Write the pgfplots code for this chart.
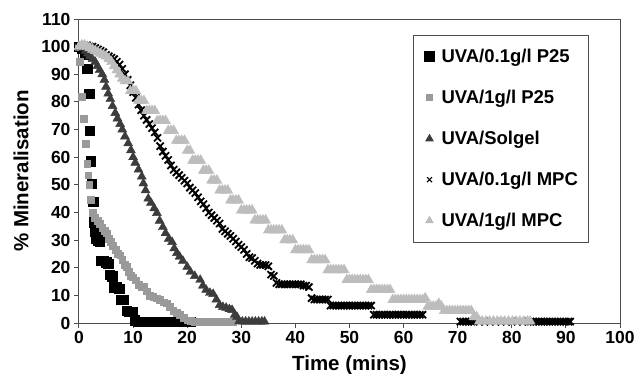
\documentclass[border=0pt]{standalone}
\usepackage{pgfplots}
\pgfplotsset{compat=1.18}
\usepackage{fontspec}
\setmainfont{Liberation Sans}
\definecolor{sqgrey}{HTML}{9A9A9A}
\definecolor{soldark}{HTML}{3C3C3C}
\definecolor{mpclight}{HTML}{BDBDBD}
\begin{document}
\begin{tikzpicture}
\begin{axis}[
  at={(0,0)}, anchor=south west,
  width=541pt, height=304pt, scale only axis,
  xmin=0, xmax=100, ymin=0, ymax=110,
  xtick={0,10,...,100}, ytick={0,10,...,110},
  tick align=outside, xtick pos=bottom, ytick pos=left,
  major tick length=5pt,
  axis line style={black!70, line width=1pt},
  tick style={black!70, line width=1pt},
  clip=false,
  /pgf/number format/assume math mode=true,
  ticklabel style={font=\bfseries\fontsize{17.5}{20}\selectfont},
  xlabel={Time (mins)}, ylabel={\% Mineralisation},
  label style={font=\bfseries\fontsize{20.5}{24}\selectfont},
  xlabel style={at={(axis description cs:0.5,-0.1546)}, anchor=base},
  ylabel style={at={(axis description cs:-0.1072,0.5)}, anchor=center},
  legend image code/.code={\draw[#1] plot coordinates {(0pt,0pt)};},
  legend cell align=left,
  legend style={at={(rel axis cs:0.6174,0.9474)}, anchor=north west,
    draw=black!70, line width=1pt,
    font=\bfseries\fontsize{18.5}{21}\selectfont,
    inner xsep=11pt, inner ysep=14pt, row sep=26pt,
    nodes={inner sep=0pt},
    /tikz/every odd column/.append style={column sep=7pt}},
]
% UVA/0.1g/l P25
\addplot[only marks, mark=square*, mark size=4.7pt, mark options={draw=black, fill=black},
  legend image post style={mark size=5pt}] coordinates {
(0,100)(0.5,99.5)(1,97)(1.5,92)(1.9,83)(2.0,69.5)(2.2,58.5)(2.4,50.5)(2.6,44)(2.8,36.5)
(3.0,33)(3.2,30.5)(3.5,30)(3.8,29.5)(4.1,22.5)(4.5,22.5)(5.0,22)(5.4,21.5)(5.7,17.5)(6.1,17)
(6.4,13)(6.9,13)(7.4,12.5)(7.8,8.5)(8.3,8.5)(8.8,4.5)(9.3,4)(9.8,4)(10.3,1)(10.8,0.5)
(11.5,0.5)(12.2,0.5)(12.9,0.5)(13.6,0.5)(14.3,0.5)(15,0.5)(15.7,0.5)(16.4,0.5)(17.1,0.5)(17.8,0.5)
(18.5,0.5)(19.2,0.5)(19.9,0.5)(20.7,0.5)
};
\addlegendentry{UVA/0.1g/l P25}
% UVA/1g/l P25
\addplot[only marks, mark=square*, mark size=3.4pt, mark options={draw=sqgrey, fill=sqgrey},
  legend image post style={mark size=3pt}] coordinates {
(0,100)(0.2,94.5)(0.5,82)(0.8,74)(1.3,65)(1.5,57.5)(1.7,53.5)(1.9,50)(2.2,44.5)(2.5,40)
(2.9,38)(3.4,37)(3.9,36)(4.3,34.5)(4.7,33.5)(5.1,32.5)(5.5,30.5)(5.9,29.5)(6.3,28)(6.8,26.5)
(7.2,25)(7.6,24.5)(8.0,23)(8.4,21)(8.8,20.3)(9.2,18.5)(9.6,17)(10.0,16.6)(10.5,15.5)(11.0,14)
(11.5,13.2)(12.0,13)(12.5,11.5)(13.1,10)(13.7,9.4)(14.3,9)(14.9,8.5)(15.6,7.5)(16.2,7.2)(16.8,6)
(17.4,4.5)(18.0,3.6)(18.6,3)(19.3,2)(20.0,1)(20.7,0.8)(21.4,0.6)(22.1,0.5)(22.8,0.5)(23.5,0.5)
(24.2,0.5)(24.9,0.5)(25.6,0.5)(26.3,0.5)(27.0,0.5)(27.7,0.5)(28.4,0.5)
};
\addlegendentry{UVA/1g/l P25}
% UVA/Solgel
\addplot[only marks, mark=triangle*, mark size=5.2pt, mark options={draw=soldark, fill=soldark},
  legend image post style={mark size=4pt}] coordinates {
(0,100)(0.4,100)(0.8,99.5)(1.2,98.5)(1.6,97.5)(2.0,96.5)(2.5,95.5)(3.0,94.5)(3.4,93)(3.8,91.5)
(4.3,90)(4.7,88)(5.0,85.5)(5.4,83)(5.8,81)(6.2,78.5)(6.7,76)(7.1,74)(7.6,72)(8.0,70)
(8.5,67.5)(9.1,65)(9.6,62.5)(10.0,60)(10.4,58)(11.0,55.5)(11.6,53)(11.9,50.5)(12.3,48)(12.8,45)
(13.3,43.5)(13.9,41.5)(14.4,39.8)(14.9,37)(15.5,34.7)(16.0,32.5)(16.6,30.5)(17.2,29.3)(17.6,27)(18.1,25.3)
(18.6,24)(19.2,22.5)(20.0,20.3)(20.6,18.5)(21.4,17)(22.4,15.6)(22.9,13.5)(23.5,12)(24.2,10.9)(24.8,10.5)
(25.4,8.5)(26.0,6.5)(26.6,5.8)(27.2,5.5)(27.8,5)(28.3,4.7)(28.8,3)(29.2,2.2)(29.6,0.6)(30.2,0.5)
(30.8,0.5)(31.4,0.5)(32.0,0.5)(32.6,0.5)(33.2,0.5)(33.8,0.5)(34.3,0.5)
};
\addlegendentry{UVA/Solgel}
% UVA/0.1g/l MPC
\addplot[only marks, mark=x, mark size=5pt, mark options={draw=black, line width=1.8pt},
  legend image post style={mark size=3.6pt, mark options={line width=1pt}}] coordinates {
(0,100)(0.5,100.5)(1,100.5)(1.5,100.5)(2,100)(2.5,100)(3,99.5)(3.5,99)(4,98.5)(4.5,98)
(5,97)(5.5,96.5)(6,96)(6.5,95.5)(7,94.5)(7.5,93.5)(8,92)(8.5,90)(9,88)(9.5,86)
(10,83.5)(10.5,81.5)(11,79)(11.5,77)(12,75)(12.5,73.5)(13,72)(13.5,70.5)(14,69)(14.5,67)
(15,64)(15.5,62)(16,60.5)(16.5,59)(17,57)(17.5,55.5)(18,54.5)(18.5,53.5)(19,52.5)(19.5,51.5)
(20,50.5)(20.5,49)(21,48)(21.5,47)(22,45.5)(22.5,44)(23,43)(23.5,41.5)(24,40)(24.5,39)
(25,38)(25.5,37)(26,36)(26.5,34)(27,33.2)(27.5,32.3)(28,31.5)(28.5,30.5)(29,29.5)(29.5,28.3)
(30,27.5)(30.5,26.5)(31,25)(31.5,23.8)(32,23.5)(32.5,22.5)(33,21.5)(33.5,21)(34,21)(34.5,21)
(35,20.5)(35.5,17.5)(36,17)(36.5,14.5)(37,14)(37.5,14)(38,14)(38.5,14)(39,14)(39.5,14)
(40,14)(40.5,14)(41,14)(41.5,13.5)(42,13.5)(42.5,13)(43,9)(43.5,8.5)(44,8.5)(44.5,8.5)
(45,8.5)(45.5,8.5)(46,8.5)(46.5,6.3)(47,6.3)(47.5,6.3)(48,6.3)(48.5,6.3)(49,6.3)(49.5,6.3)
(50,6.3)(50.5,6.3)(51,6.3)(51.5,6.3)(52,6.3)(52.5,6.3)(53,6.3)(53.5,6.3)(54,6.3)(54.5,3)
(55,3)(55.5,3)(56,3)(56.5,3)(57,3)(57.5,3)(58,3)(58.5,3)(59,3)(59.5,3)
(60,3)(60.5,3)(61,3)(61.5,3)(62,3)(62.5,3)(63,3)(63.5,3)
(70.5,0.5)(71,0.5)(71.5,0.5)(72,0.5)(72.5,0.5)(73,0.5)(74,0.5)(75,0.5)(76,0.5)(77,0.5)
(78,0.5)(79,0.5)(80,0.5)(81,0.5)(82,0.5)(83,0.5)(83.5,0.5)(84,0.5)(84.5,0.5)(85,0.5)
(85.5,0.5)(86,0.5)(86.5,0.5)(87,0.5)(87.5,0.5)(88,0.5)(88.5,0.5)(89,0.5)(89.5,0.5)(90,0.5)
(90.5,0.5)(90.8,0.5)
};
\addlegendentry{UVA/0.1g/l MPC}
% UVA/1g/l MPC
\addplot[only marks, mark=triangle*, mark size=5.8pt, mark options={draw=mpclight, fill=mpclight},
  legend image post style={mark size=4pt}] coordinates {
(0,100)(0.5,100.5)(1,100.5)(1.5,100)(2,99.5)(2.5,99)(3,98.5)(3.5,98)(4,97.5)(4.5,97)
(5,96.5)(5.5,95.5)(6,94.5)(6.5,93)(7,91.5)(7.5,90)(8,88.5)(8.5,87.6)(9,87.6)
(9.5,84)(10,84)(10.5,84)
(11,80.4)(11.5,80.4)(12,80.4)
(12.5,76.8)(13,76.8)(13.5,76.8)(14,76.8)
(14.5,73.2)(15,73.2)(15.5,73.2)(16,73.2)
(16.5,69.6)(17,69.6)(17.5,69.6)
(18,66)(18.5,66)(19,66)(19.5,66)
(20,62.4)(20.5,62.4)
(21,58.8)(21.5,58.8)(22,58.8)(22.5,58.8)
(23,55.2)(23.5,55.2)(24,55.2)
(24.5,51.6)(25,51.6)(25.5,51.6)
(26,48)(26.5,48)(27,48)(27.5,48)
(28,44.4)(28.5,44.4)(29,44.4)(29.5,44.4)
(30,40.8)(30.5,40.8)(31,40.8)(31.5,40.8)(32,40.8)
(32.5,37.2)(33,37.2)(33.5,37.2)(34,37.2)(34.5,37.2)
(35,33.6)(35.5,33.6)(36,33.6)(36.5,33.6)(37,33.6)(37.5,33.6)
(38,30)(38.5,30)(39,30)(39.5,30)
(40,26.4)(40.5,26.4)(41,26.4)(41.5,26.4)(42,26.4)(42.5,26.4)
(43,22.8)(43.5,22.8)(44,22.8)(44.5,22.8)(45,22.8)(45.5,22.8)
(46,19.2)(46.5,19.2)(47,19.2)(47.5,19.2)(48,19.2)(48.5,19.2)(49,19.2)
(49.5,15.6)(50,15.6)(50.5,15.6)(51,15.6)(51.5,15.6)(52,15.6)(52.5,15.6)(53,15.6)(53.5,15.6)
(54,12)(54.5,12)(55,12)(55.5,12)(56,12)(56.5,12)(57,12)(57.5,12)
(58,8.4)(58.5,8.4)(59,8.4)(59.5,8.4)(60,8.4)(60.5,8.4)(61,8.4)(61.5,8.4)(62,8.4)(62.5,8.4)(63,8.4)(63.5,8.4)
(64,9)(64.5,6)(65,6)(65.5,6)(66,6)(66.5,7)(67,6)
(67.5,4.4)(68,4.4)(68.5,4.4)(69,4.4)(69.5,4.4)(70,4.4)(70.5,4.4)(71,4.4)(71.5,4.4)(72,4.4)(72.5,4.4)
(73,2.2)(73.5,2.2)
(74,0.6)(74.5,0.6)(75.2,0.6)(75.9,0.6)(76.6,0.6)(77.3,0.6)(78,0.6)(78.7,0.6)(79.4,0.6)(80.1,0.6)
(80.8,0.6)(81.5,0.6)(82.2,0.6)(82.9,0.6)(83.4,0.6)
};
\addlegendentry{UVA/1g/l MPC}
\end{axis}
\pgfresetboundingbox
\useasboundingbox (-79pt,-50pt) rectangle (558pt,323pt);
\end{tikzpicture}
\end{document}
